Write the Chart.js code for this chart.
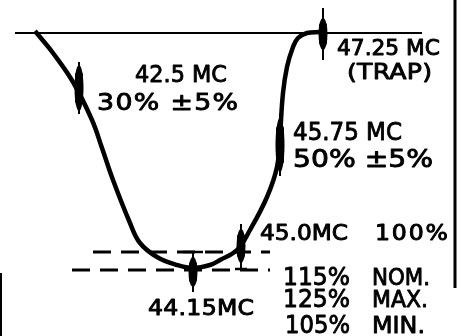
<!DOCTYPE html>
<html>
<head>
<meta charset="utf-8">
<script src="https://cdn.jsdelivr.net/npm/chart.js@4.4.0/dist/chart.umd.min.js"></script>
<style>
  html, body { margin: 0; padding: 0; background: #fff; }
  canvas { display: block; }
</style>
</head>
<body>
<canvas id="trap" width="461" height="336"></canvas>
<script>
// IF response sketch: sweep position across, depth downward (drawing units)
const curveX = [35, 40, 53, 73, 92, 102, 113, 130, 140, 157, 177, 193, 210, 220, 237, 250, 267, 277, 280, 283, 287, 293, 298, 307, 320];
const curveY = [31, 37, 53, 82, 120, 148, 180, 223, 243, 257, 265, 268, 265, 260, 250, 230, 197, 167, 135, 93, 67, 47, 38, 33, 32];

// zero reference line along the top
const baseX = [15, 422];
const baseY = [33, 33];

// 100% and 115% levels (dashed)
const levelY = [252, 270];
const levelFrom = [93, 72];
const levelTo = [270, 270];

// marker frequencies and where they sit on the curve
const markerMC = ['42.5', '47.25', '45.75', '45.0', '44.15'];
const markerX = [79, 323, 280, 241, 193];
const markerY = [88, 34, 145, 246, 272];
const markerPct = ['30% ±5%', '(TRAP)', '50% ±5%', '100%', ''];

// spec for the bottom level
const specPct = ['115%', '125%', '105%'];
const specName = ['NOM.', 'MAX.', 'MIN.'];

const ink = '#000';

// marker shapes: thin spike half-length, fat body half-length
const spikeLen = [26, 26, 31, 22, 20];
const bodyLen = [23, 16, 27, 17, 15];

// lettering layout: left / baseline in drawing units, cap height and run width in px
const notes = [
  { text: markerMC[0] + ' MC', x: 135, y: 82, cap: 17, w: 92 },
  { text: markerPct[0], x: 97, y: 110, cap: 17, w: 141 },
  { text: markerMC[1] + ' MC', x: 337, y: 55, cap: 15, w: 103 },
  { text: markerPct[1], x: 347, y: 79, cap: 16, w: 85 },
  { text: markerMC[2] + ' MC', x: 293, y: 140, cap: 18, w: 109 },
  { text: markerPct[2], x: 293, y: 167, cap: 18, w: 140 },
  { text: markerMC[3] + 'MC', x: 260, y: 240, cap: 15, w: 88 },
  { text: markerPct[3], x: 375, y: 240, cap: 15, w: 73 },
  { text: markerMC[4] + 'MC', x: 148, y: 315, cap: 15, w: 106 },
  { text: specPct[0], x: 283, y: 285, cap: 18, w: 67 },
  { text: specName[0], x: 372, y: 285, cap: 17, w: 58 },
  { text: specPct[1], x: 283, y: 307, cap: 18, w: 67 },
  { text: specName[1], x: 372, y: 307, cap: 17, w: 56 },
  { text: specPct[2], x: 285, y: 333, cap: 18, w: 65 },
  { text: specName[2], x: 372, y: 333, cap: 17, w: 53 }
];

const xy = (xs, ys) => xs.map((v, i) => ({ x: v, y: ys[i] }));

// a marker glyph: hair-line spike through a fat, pointed body
function markerGlyph(spike, body) {
  const c = document.createElement('canvas');
  c.width = 12;
  c.height = spike * 2;
  const g = c.getContext('2d');
  g.fillStyle = ink;
  g.fillRect(5, 0, 2, c.height);
  g.beginPath();
  g.ellipse(6, spike, 4.5, body, 0, 0, Math.PI * 2);
  g.fill();
  g.beginPath();
  g.roundRect(2, spike - body * 0.7, 8, body * 1.4, 3);
  g.fill();
  return c;
}
const glyphs = spikeLen.map((s, i) => markerGlyph(s, bodyLen[i]));

const lettering = {
  id: 'lettering',
  afterDatasetsDraw(chart) {
    const { ctx, scales } = chart;
    ctx.save();
    ctx.fillStyle = ink;
    ctx.strokeStyle = ink;
    ctx.lineWidth = 0.9;
    ctx.lineJoin = 'round';
    ctx.textBaseline = 'alphabetic';
    notes.forEach(n => {
      ctx.font = (n.cap / 0.73).toFixed(1) + 'px "DejaVu Sans"';
      ctx.letterSpacing = '0px';
      const px = scales.x.getPixelForValue(n.x);
      const py = scales.y.getPixelForValue(n.y);
      const m = ctx.measureText(n.text).width;
      const gaps = Math.max(n.text.length - 1, 1);
      // widen the lettering a little, then open up the spacing for the rest
      const s = Math.min(n.w / m, 1.15);
      ctx.save();
      ctx.translate(px, py);
      ctx.scale(s, 1);
      if (m * s < n.w) {
        ctx.letterSpacing = ((n.w - m * s) / gaps / s).toFixed(2) + 'px';
      }
      ctx.fillText(n.text, 0, 0);
      ctx.strokeText(n.text, 0, 0);
      ctx.restore();
    });
    ctx.restore();
  }
};

const lineSet = (data, width, dash) => ({
  data, showLine: true, borderColor: ink, borderWidth: width,
  borderDash: dash || [], pointRadius: 0, tension: 0, clip: false
});

new Chart(document.getElementById('trap'), {
  type: 'scatter',
  data: {
    datasets: [
      {
        data: xy(curveX, curveY), showLine: true, borderColor: ink, borderWidth: 4.5,
        pointRadius: 0, tension: 0.4, clip: false
      },
      lineSet(xy(baseX, baseY), 2),
      lineSet(xy([levelFrom[0], levelTo[0]], [levelY[0], levelY[0]]), 3, [18, 10]),
      lineSet(xy([levelFrom[1], levelTo[1]], [levelY[1], levelY[1]]), 3, [18, 10]),
      // frame edges
      lineSet(xy([455, 455], [0, 288]), 3),
      lineSet(xy([1, 1], [273, 336]), 2),
      {
        data: xy(markerX, markerY), pointStyle: glyphs, pointRadius: 10, clip: false
      },
      {
        // cross bars on the 44.15 and 45.0 markers
        data: xy([markerX[4], markerX[3]], [252, 269]), pointStyle: 'line', rotation: 0,
        pointRadius: [10, 6], pointBorderWidth: 2.5, pointBorderColor: ink, clip: false
      }
    ]
  },
  options: {
    responsive: false,
    animation: false,
    layout: { padding: 0, autoPadding: false },
    plugins: { legend: { display: false }, tooltip: { enabled: false } },
    scales: {
      x: { type: 'linear', min: 0, max: 461, display: false },
      y: { type: 'linear', min: 0, max: 336, reverse: true, display: false }
    }
  },
  plugins: [lettering]
});
</script>
</body>
</html>
